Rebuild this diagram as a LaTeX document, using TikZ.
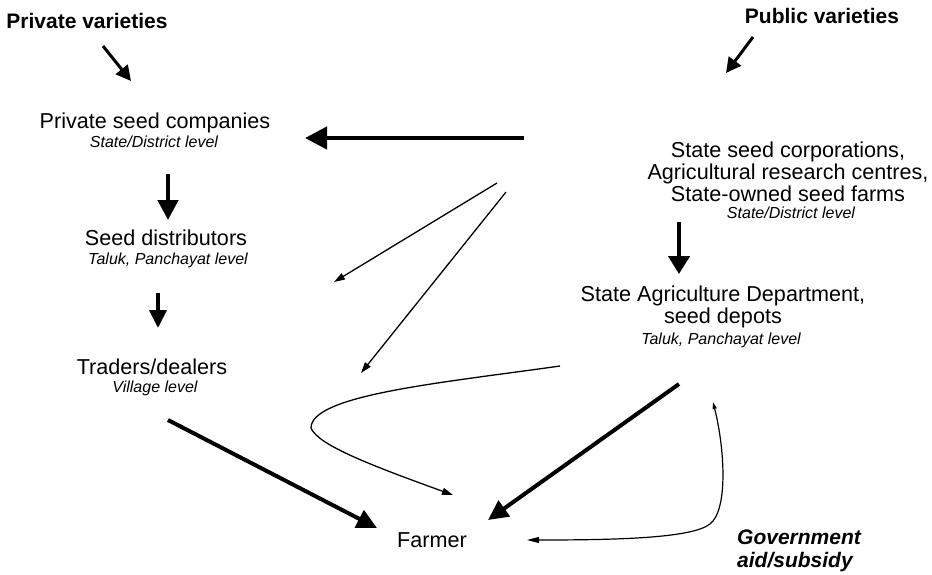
\documentclass[tikz,border=0pt]{standalone}
\usepackage{fontspec}
\setmainfont{Liberation Sans}
\usetikzlibrary{arrows.meta}
\begin{document}
\begin{tikzpicture}[x=1pt,y=-1pt,
  title/.style={inner sep=0pt, anchor=base, align=center, font=\fontsize{21.6}{22}\selectfont},
  level/.style={inner sep=0pt, anchor=base, font=\fontsize{16}{18}\selectfont\itshape},
  source/.style={inner sep=0pt, anchor=base, font=\fontsize{21}{22}\selectfont\bfseries},
  bigflow/.style={line width=4.4pt, -{Triangle[length=20pt,width=20pt]}},
  midflow/.style={line width=3pt, -{Triangle[length=15pt,width=15pt]}},
  thinflow/.style={line width=1.3pt, -{Triangle[length=11pt,width=7pt]}},
]
\path[use as bounding box] (0,0) rectangle (932,574);

% ---- sources
\node[source] (pv) at (87,28) {Private varieties};
\node[source] (pubv) at (822,23) {Public varieties};

% ---- private channel
\node[title] (psc) at (155,128) {Private seed companies};
\node[level] (psc-l) at (154,147) {State/District level};
\node[title] (sd) at (166,245) {Seed distributors};
\node[level] (sd-l) at (168,264) {Taluk, Panchayat level};
\node[title] (td) at (152,374) {Traders/dealers};
\node[level] (td-l) at (155,392) {Village level};

% ---- public channel (multi-line nodes sit on the baseline of their last line)
\node[title] (ssc) at (788,201) {State seed corporations,\\Agricultural research centres,\\State-owned seed farms};
\node[level] (ssc-l) at (791,218) {State/District level};
\node[title] (sad) at (723,323) {State Agriculture Department,\\seed depots};
\node[level] (sad-l) at (721,344) {Taluk, Panchayat level};

% ---- farmer and subsidy
\node[title] (farmer) at (432,547) {Farmer};
\node[source, font=\fontsize{21}{23}\selectfont\bfseries\itshape, align=left, anchor=base west]
  (gov) at (737,567) {Government\\aid/subsidy};

% ---- connector end points
\coordinate (pv-a) at (103,46);   \coordinate (pv-b) at (131,81);
\coordinate (pub-a) at (753,37);  \coordinate (pub-b) at (726,73);
\coordinate (ssc-w) at (524,138); \coordinate (psc-e) at (305,138);
\coordinate (psc-s) at (168,174); \coordinate (sd-n) at (168,220);
\coordinate (sd-s) at (158,293);  \coordinate (td-n) at (158,328);
\coordinate (ssc-s) at (679,222); \coordinate (sad-n) at (679,274);
\coordinate (ssc-a) at (497,183); \coordinate (sd-e) at (334,282);
\coordinate (ssc-b) at (506,192); \coordinate (td-e) at (361,373);
\coordinate (td-s) at (168,420);  \coordinate (farmer-w) at (377,528);
\coordinate (sad-s) at (679,384); \coordinate (farmer-e) at (488,520);
\coordinate (sad-w) at (560,366); \coordinate (loop) at (311,428);
\coordinate (farmer-n) at (453,495);
\coordinate (gov-top) at (713,402); \coordinate (gov-bend) at (710,524);
\coordinate (farmer-r) at (527,540);

% ---- connectors
\draw[midflow] (pv-a) -- (pv-b);
\draw[midflow] (pub-a) -- (pub-b);
\draw[line width=4.4pt, -{Triangle[length=22pt,width=22pt]}] (ssc-w) -- (psc-e);
\draw[bigflow] (psc-s) -- (sd-n);
\draw[line width=4pt, -{Triangle[length=18pt,width=17pt]}] (sd-s) -- (td-n);
\draw[line width=4.4pt, -{Triangle[length=18pt,width=21pt]}] (ssc-s) -- (sad-n);
\draw[thinflow] (ssc-a) -- (sd-e);
\draw[thinflow] (ssc-b) -- (td-e);
\draw[line width=4pt, -{Triangle[length=20pt,width=19pt]}] (td-s) -- (farmer-w);
\draw[line width=4pt, -{Triangle[length=20pt,width=19pt]}] (sad-s) -- (farmer-e);
\draw[thinflow] (sad-w) .. controls (440,383) and (311,395) .. (loop)
  .. controls (318,445) and (370,465) .. (farmer-n);
\draw[line width=1.2pt, {Triangle[length=7pt,width=4pt]}-{Triangle[length=12pt,width=6pt]}]
  (gov-top) .. controls (725,450) and (728,510) .. (gov-bend)
  .. controls (692,538) and (620,540) .. (farmer-r);
\end{tikzpicture}
\end{document}
